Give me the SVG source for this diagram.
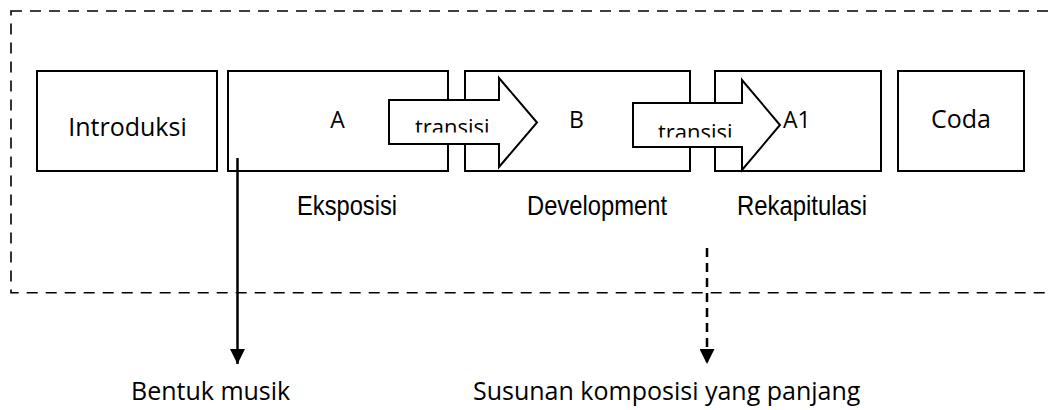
<svg xmlns="http://www.w3.org/2000/svg" width="1050" height="410" viewBox="0 0 1050 410">
  <style>
    .box { fill: #ffffff; stroke: #000000; stroke-width: 2; }
    .blk { fill: #ffffff; stroke: #000000; stroke-width: 2; stroke-linejoin: miter; }
    .frame { fill: none; stroke: #000000; stroke-width: 1.6; stroke-dasharray: 11 8; }
    .t { font-family: "Open Sans", "Noto Sans", sans-serif; fill: #000000; }
    .n { font-family: "Liberation Sans", Arial, sans-serif; fill: #000000; }
    .conn { fill: none; stroke: #000000; stroke-width: 2.5; }
    .dash { stroke-dasharray: 9 6; }
  </style>
  <defs>
    <marker id="head" markerUnits="userSpaceOnUse" markerWidth="15" markerHeight="15" refX="15" refY="7.5" orient="auto">
      <path d="M0,0 L15,7.5 L0,15 Z" fill="#000000"/>
    </marker>
    <clipPath id="clip1"><rect x="392" y="101" width="110" height="31.5"/></clipPath>
    <clipPath id="clip2"><rect x="636" y="104" width="110" height="33.5"/></clipPath>
  </defs>

  <rect id="frame" class="frame" x="11" y="11" width="1060" height="281.7"/>

  <g id="introduksi">
    <rect class="box" x="37" y="71" width="180" height="100"/>
    <text class="t" x="127.5" y="136" font-size="25" text-anchor="middle">Introduksi</text>
  </g>
  <g id="eksposisi">
    <rect class="box" x="228" y="71" width="220" height="100"/>
    <text class="t" x="337.5" y="128" font-size="23" text-anchor="middle">A</text>
    <text class="n" x="297" y="215" font-size="28" textLength="100" lengthAdjust="spacingAndGlyphs">Eksposisi</text>
  </g>
  <g id="development">
    <rect class="box" x="465" y="71" width="225" height="100"/>
    <text class="t" x="576.5" y="128" font-size="23" text-anchor="middle">B</text>
    <text class="n" x="527" y="215" font-size="28" textLength="140" lengthAdjust="spacingAndGlyphs">Development</text>
  </g>
  <g id="rekapitulasi">
    <rect class="box" x="715" y="71" width="166" height="100"/>
    <text class="t" x="783" y="128" font-size="23">A1</text>
    <text class="n" x="737" y="215" font-size="28" textLength="130" lengthAdjust="spacingAndGlyphs">Rekapitulasi</text>
  </g>
  <g id="coda">
    <rect class="box" x="898" y="71" width="126" height="100"/>
    <text class="t" x="961" y="128" font-size="25" text-anchor="middle">Coda</text>
  </g>

  <g id="transisi1">
    <polygon class="blk" points="389,100 499,100 499,78 537,122.5 499,167 499,144 389,144"/>
    <text class="t" x="415" y="134.5" font-size="22" clip-path="url(#clip1)">transisi</text>
  </g>
  <g id="transisi2">
    <polygon class="blk" points="633,103 742,103 742,80 780,125 742,170 742,147 633,147"/>
    <text class="t" x="658" y="139.5" font-size="22" clip-path="url(#clip2)">transisi</text>
  </g>

  <g id="connectors">
    <line class="conn" x1="237.5" y1="158" x2="237.5" y2="364" marker-end="url(#head)"/>
    <line class="conn dash" x1="707" y1="248" x2="707" y2="364" marker-end="url(#head)"/>
  </g>

  <g id="bentuk">
    <text class="t" x="131" y="400" font-size="25">Bentuk musik</text>
  </g>
  <g id="susunan">
    <text class="t" x="473" y="400" font-size="25">Susunan komposisi yang panjang</text>
  </g>
</svg>
